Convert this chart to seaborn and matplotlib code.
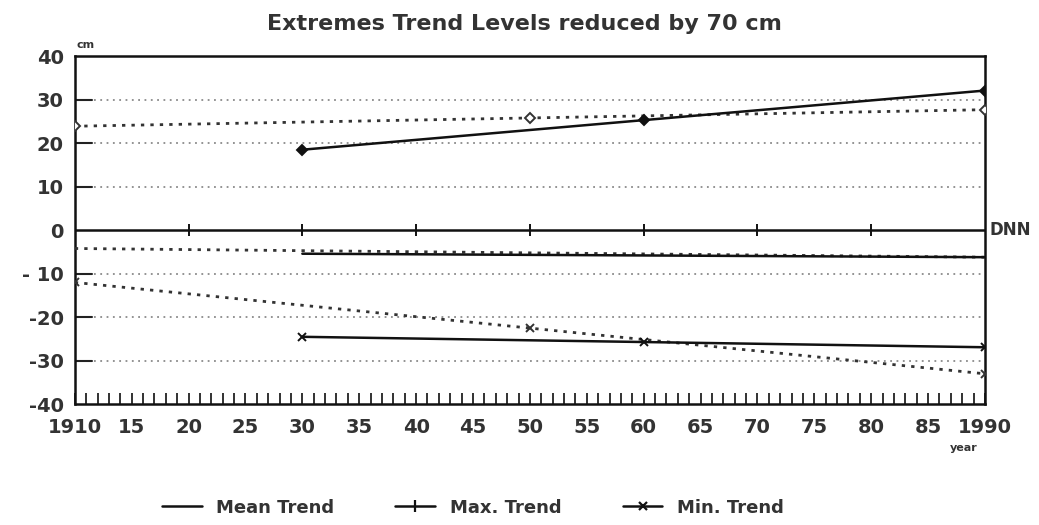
import matplotlib
matplotlib.use("Agg")
import matplotlib.pyplot as plt
import seaborn as sns
import pandas as pd
from matplotlib.lines import Line2D

# ---- data ----
years_long = [1910, 1950, 1990]      # dotted trends (1910-1990)
years_short = [1930, 1960, 1990]     # solid trends (1930-1990)
max_long = [23.9, 25.8, 27.7]
max_short = [18.5, 25.3, 32.1]
min_long = [-12.0, -22.5, -33.0]
min_short = [-24.5, -25.7, -26.9]
mean_long = [-4.2, -5.2, -6.2]
mean_short = [-5.4, -5.8, -6.2]
dnn_years = [1910, 1920, 1930, 1940, 1950, 1960, 1970, 1980, 1990]
dnn_level = [0, 0, 0, 0, 0, 0, 0, 0, 0]

y_ticks = [40, 30, 20, 10, 0, -10, -20, -30, -40]
y_labels = ["40", "30", "20", "10", "0", "- 10", "-20", "-30", "-40"]
x_ticks = list(range(1910, 1991, 5))
x_labels = ["1910"] + [str(y % 100) for y in x_ticks[1:-1]] + ["1990"]
grid_levels = [30, 20, 10, -10, -20, -30]

title = "Extremes Trend Levels reduced by 70 cm"

sns.set_theme(style="white")
plt.rcParams['font.family'] = ['DejaVu Sans']
plt.rcParams['font.weight'] = 'bold'

txt = "#333333"
fig = plt.figure(figsize=(10.39, 5.25), dpi=100)
ax = fig.add_axes([0.072, 0.230, 0.876, 0.663])

# grid lines (dotted) with short solid stubs at left
for g in grid_levels:
    ax.axhline(g, color="#8a8a8a", lw=1.3, ls=(0, (1, 2.5)), zorder=1)
    ax.plot([1910, 1911.5], [g, g], color="#222222", lw=1.5, zorder=2)

def draw(x, y, ls, marker, ms, mfc, lw, color):
    df = pd.DataFrame({"year": x, "cm": y})
    sns.lineplot(data=df, x="year", y="cm", ax=ax, color=color, lw=lw,
                 linestyle=ls, marker=marker, markersize=ms,
                 markerfacecolor=mfc, markeredgecolor=color,
                 markeredgewidth=1.4, zorder=3)

dotted = (0, (1.2, 2.2))
# DNN reference line
draw(dnn_years[1:-1], dnn_level[1:-1], "None", "|", 9, "#111111", 0, "#111111")
ax.plot([1910, 1990], [0, 0], color="#111111", lw=1.8, zorder=3)

# mean trend
draw(years_long, mean_long, dotted, None, 0, "none", 2.0, "#333333")
draw(years_short, mean_short, "-", None, 0, "none", 1.8, "#111111")
# max trend
draw(years_long, max_long, dotted, "D", 5, "white", 2.0, "#333333")
draw(years_short, max_short, "-", "D", 5, "#111111", 1.8, "#111111")
# min trend
draw(years_long, min_long, dotted, "x", 6, "#111111", 2.0, "#333333")
draw(years_short, min_short, "-", "x", 6, "#111111", 1.8, "#111111")

ax.set_xlim(1910, 1990)
ax.set_ylim(-40, 40)
ax.set_xlabel("")
ax.set_ylabel("")
ax.set_yticks(y_ticks)
ax.set_yticklabels(y_labels, fontsize=14, fontweight="bold", color=txt)
ax.set_xticks(x_ticks)
ax.set_xticklabels(x_labels, fontsize=14, fontweight="bold", color=txt)
ax.set_xticks(range(1911, 1990), minor=True)
ax.tick_params(axis="x", which="both", direction="in", length=8, width=1.3,
               color="#222222", pad=10, bottom=True)
ax.tick_params(axis="y", which="major", length=0, pad=8)
for s in ax.spines.values():
    s.set_color("#111111")
    s.set_linewidth(1.8)

fig.text(0.505, 0.955, title, ha="center", va="center", fontsize=16,
         fontweight="bold", color=txt)
fig.text(0.082, 0.915, "cm", ha="center", va="center", fontsize=8,
         fontweight="bold", color=txt)
fig.text(0.928, 0.147, "year", ha="center", va="center", fontsize=8,
         fontweight="bold", color=txt)
ax.text(1990.4, 0, "DNN", ha="left", va="center", fontsize=12,
        fontweight="bold", color=txt, clip_on=False)

handles = [
    Line2D([], [], color="#111111", lw=1.8),
    Line2D([], [], color="#111111", lw=1.8, marker="|", markersize=9, markeredgewidth=1.6),
    Line2D([], [], color="#111111", lw=1.8, marker="x", markersize=6, markeredgewidth=1.6),
]
fig.legend(handles, ["Mean Trend", "Max. Trend", "Min. Trend"], loc="center",
           bbox_to_anchor=(0.455, 0.033), ncol=3, frameon=False,
           prop={"size": 13, "weight": "bold"}, handlelength=2.2,
           columnspacing=3.4, labelcolor=txt)

fig.savefig("out.png", dpi=100, facecolor="white")
